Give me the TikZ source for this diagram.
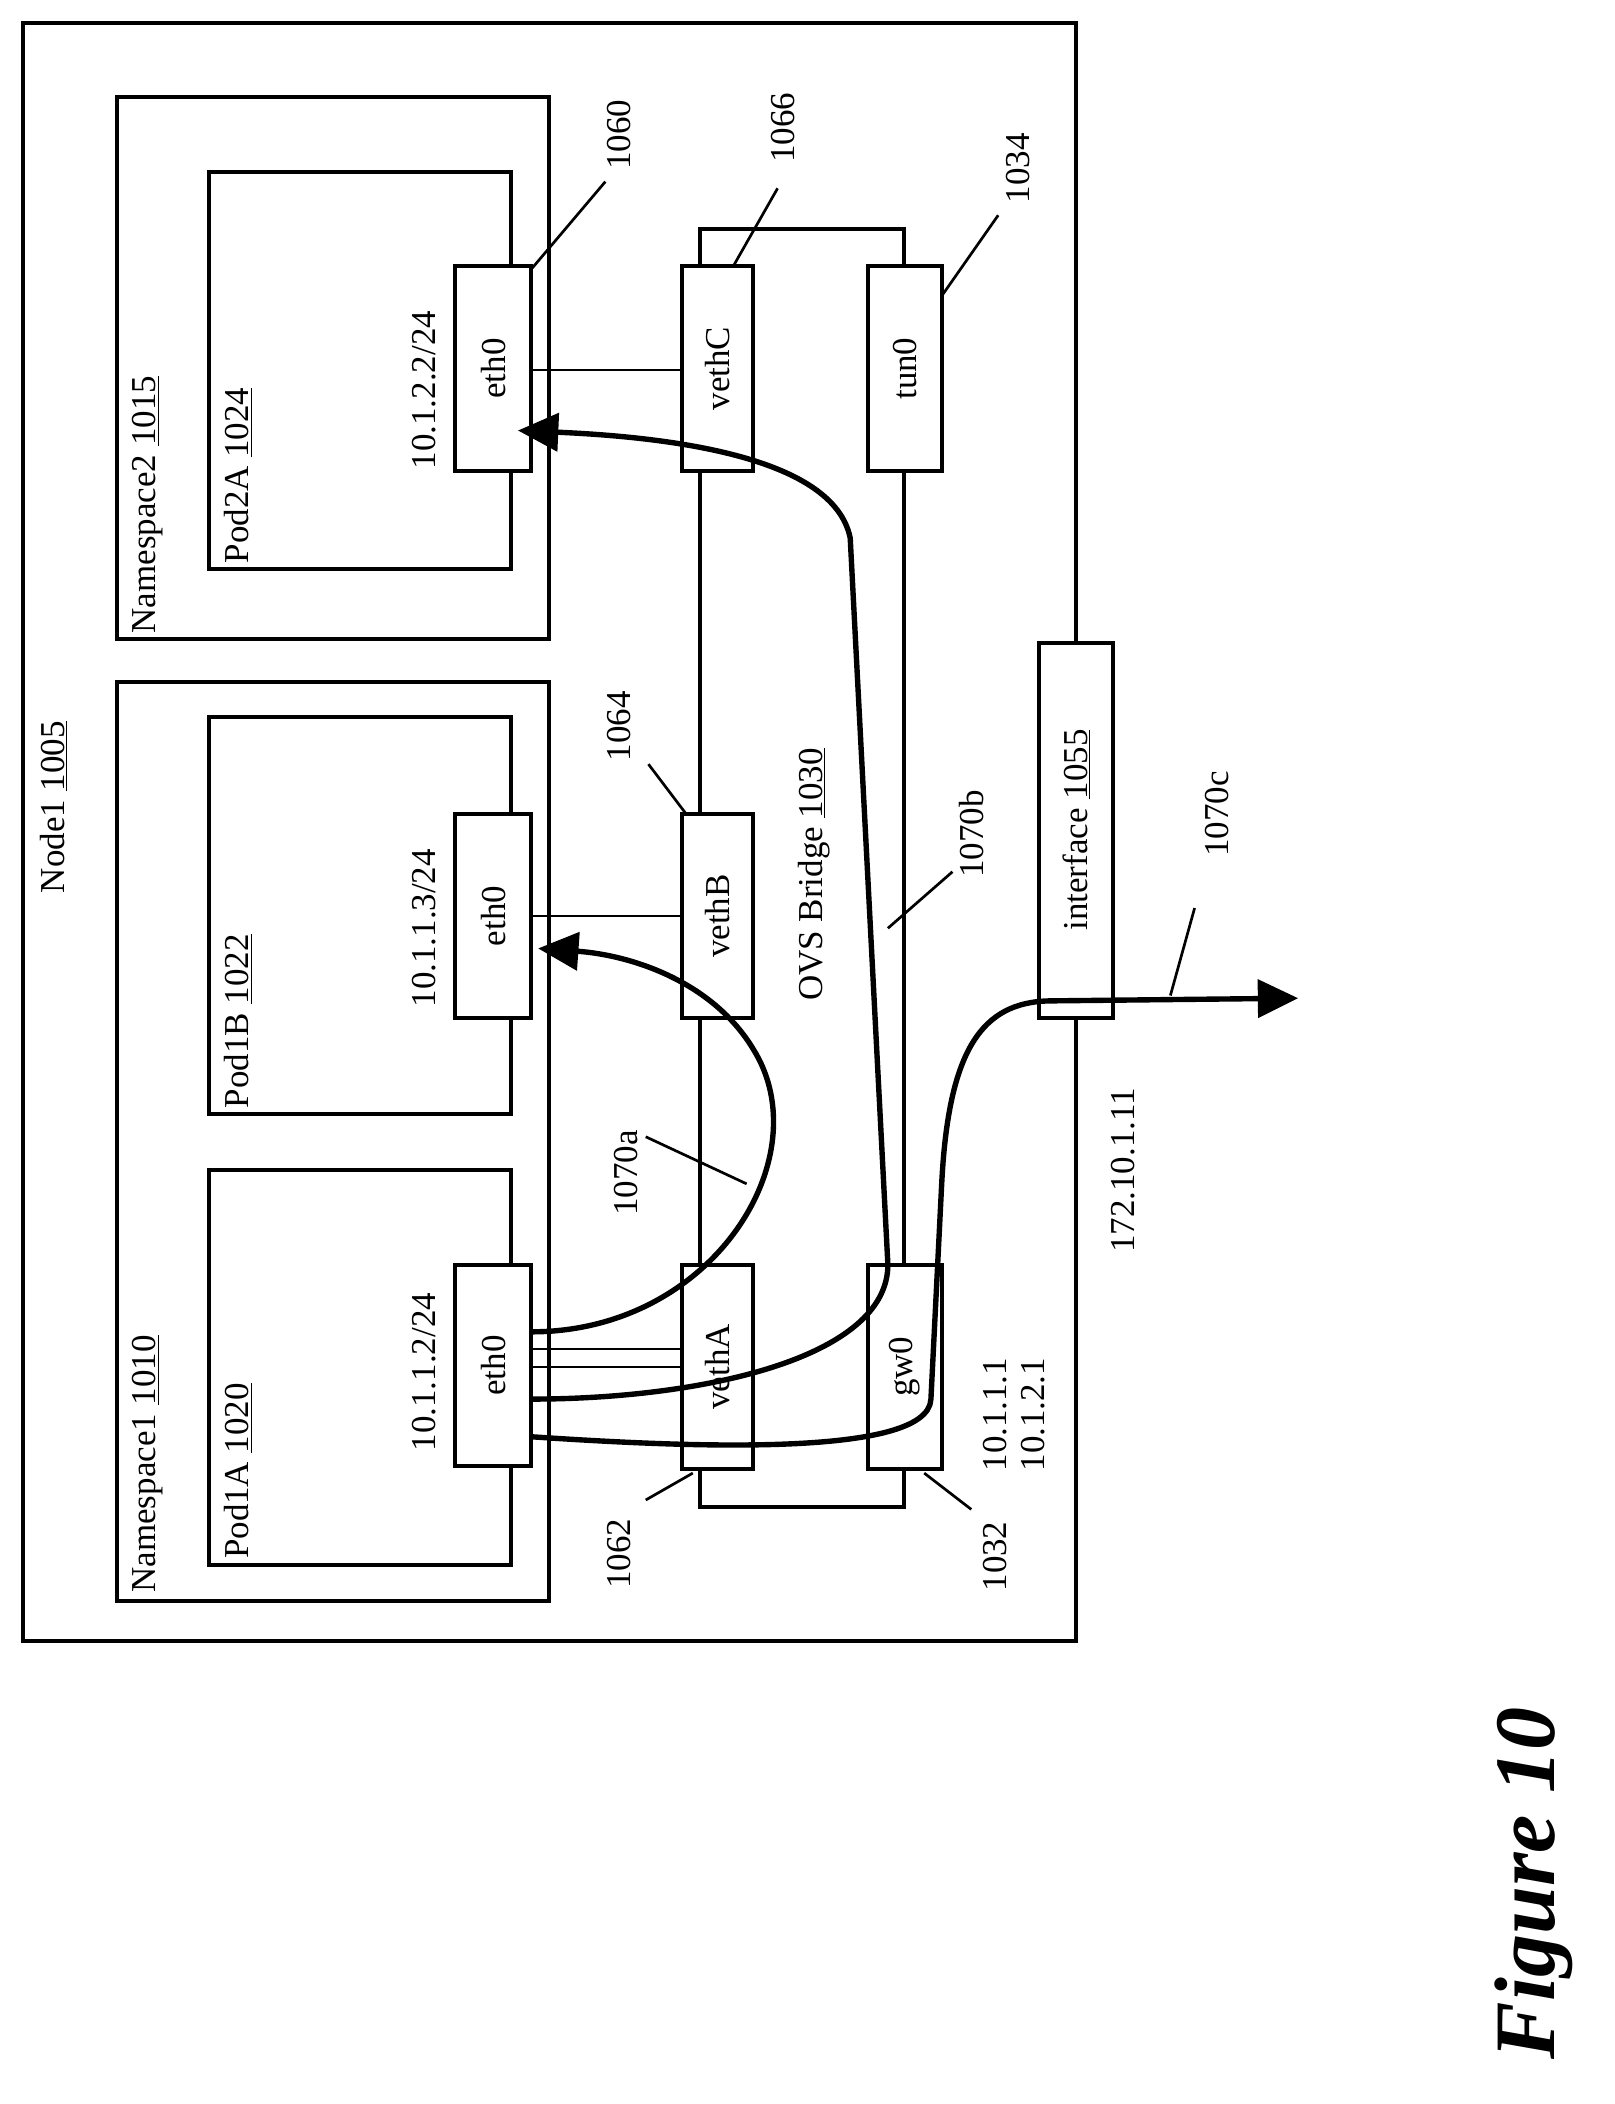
\documentclass[tikz,border=0pt]{standalone}
\usepackage{fontspec}
\setmainfont{Liberation Serif}
\usetikzlibrary{arrows.meta}
\begin{document}
\begin{tikzpicture}[x=1pt,y=-1pt,
  box/.style={draw,line width=3pt},
  thin/.style={line width=1.5pt},
  flow/.style={line width=4pt,-{Triangle[length=30pt,width=28pt]}},
  lbl/.style={rotate=90,font=\fontsize{26}{28}\selectfont,inner sep=1pt},
  lead/.style={line width=2pt}]
\useasboundingbox (0,0) rectangle (1200,1564);
% rectangles
\draw[box] (17,17) rectangle (800,1220);
\draw[box] (87,72) rectangle (408,475);
\draw[box] (87,507) rectangle (408,1190);
\draw[box] (155,128) rectangle (380,423);
\draw[box] (155,533) rectangle (380,828);
\draw[box] (155,870) rectangle (380,1163);
\draw[box] (520,170) rectangle (672,1120);
% ports
\foreach \n/\xa/\xb/\ya/\yb/\t in {e2/338/395/198/350/eth0, eb/338/395/605/757/eth0, ea/338/395/940/1090/eth0,
  vc/507/560/198/350/vethC, tn/645/700/198/350/tun0, vb/507/560/605/757/vethB, va/507/560/940/1092/vethA,
  gw/645/700/940/1092/gw0}
  {\draw[box,fill=white] (\xa,\ya) rectangle (\xb,\yb);
   \node[lbl] (\n) at ({(\xa+\xb)/2},{(\ya+\yb)/2}) {\t};}
\draw[box,fill=white] (772,478) rectangle (827,757);
\node[lbl] (if) at (800,617) {interface \underline{1055}};
% thin links
\draw[thin] (395,275) -- (507,275);
\draw[thin] (395,681) -- (507,681);
\draw[thin] (395,1003) -- (507,1003);
\draw[thin] (395,1016) -- (507,1016);
% flows
\draw[flow] (395,990) .. controls (530,990) and (610,860) .. (560,780) .. controls (530,730) and (470,710) .. (400,705);
\draw[flow] (395,1040) .. controls (520,1040) and (660,1010) .. (660,940) -- (632,400) .. controls (620,340) and (500,325) .. (385,320);
\draw[flow] (395,1068) .. controls (500,1075) and (690,1085) .. (692,1040) -- (700,880) .. controls (705,780) and (730,745) .. (780,744) -- (965,742);
% labels
\node[lbl] at (40,600) {Node1 \underline{1005}};
\node[lbl,anchor=west] at (110,472) {Namespace2 \underline{1015}};
\node[lbl,anchor=west] at (110,1185) {Namespace1 \underline{1010}};
\node[lbl,anchor=west] at (177,420) {Pod2A \underline{1024}};
\node[lbl,anchor=west] at (177,825) {Pod1B \underline{1022}};
\node[lbl,anchor=west] at (177,1160) {Pod1A \underline{1020}};
\node[lbl] at (315,290) {10.1.2.2/24};
\node[lbl] at (315,690) {10.1.1.3/24};
\node[lbl] at (315,1020) {10.1.1.2/24};
\node[lbl] at (605,650) {OVS Bridge \underline{1030}};
\node[lbl] at (835,870) {172.10.1.11};
\node[lbl,anchor=west] at (740,1095) {10.1.1.1};
\node[lbl,anchor=west] at (768,1095) {10.1.2.1};
\node[lbl] at (465,872) {1070a};
\node[lbl] at (722,620) {1070b};
\node[lbl] at (905,605) {1070c};
\node[lbl] at (460,1155) {1062};
\node[lbl] at (740,1157) {1032};
\node[lbl] at (460,540) {1064};
\node[lbl] at (582,95) {1066};
\node[lbl] at (460,100) {1060};
\node[lbl] at (757,125) {1034};
% leaders
\draw[lead] (395,200) -- (450,135);
\draw[lead] (545,198) -- (578,140);
\draw[lead] (700,220) -- (742,160);
\draw[lead] (510,605) -- (482,568);
\draw[lead] (555,880) -- (480,845);
\draw[lead] (660,690) -- (708,648);
\draw[lead] (870,740) -- (888,675);
\draw[lead] (515,1095) -- (480,1115);
\draw[lead] (687,1095) -- (722,1122);
\node[rotate=90,font=\fontsize{64}{68}\selectfont\bfseries\itshape] at (1140,1400) {Figure 10};
\end{tikzpicture}
\end{document}
